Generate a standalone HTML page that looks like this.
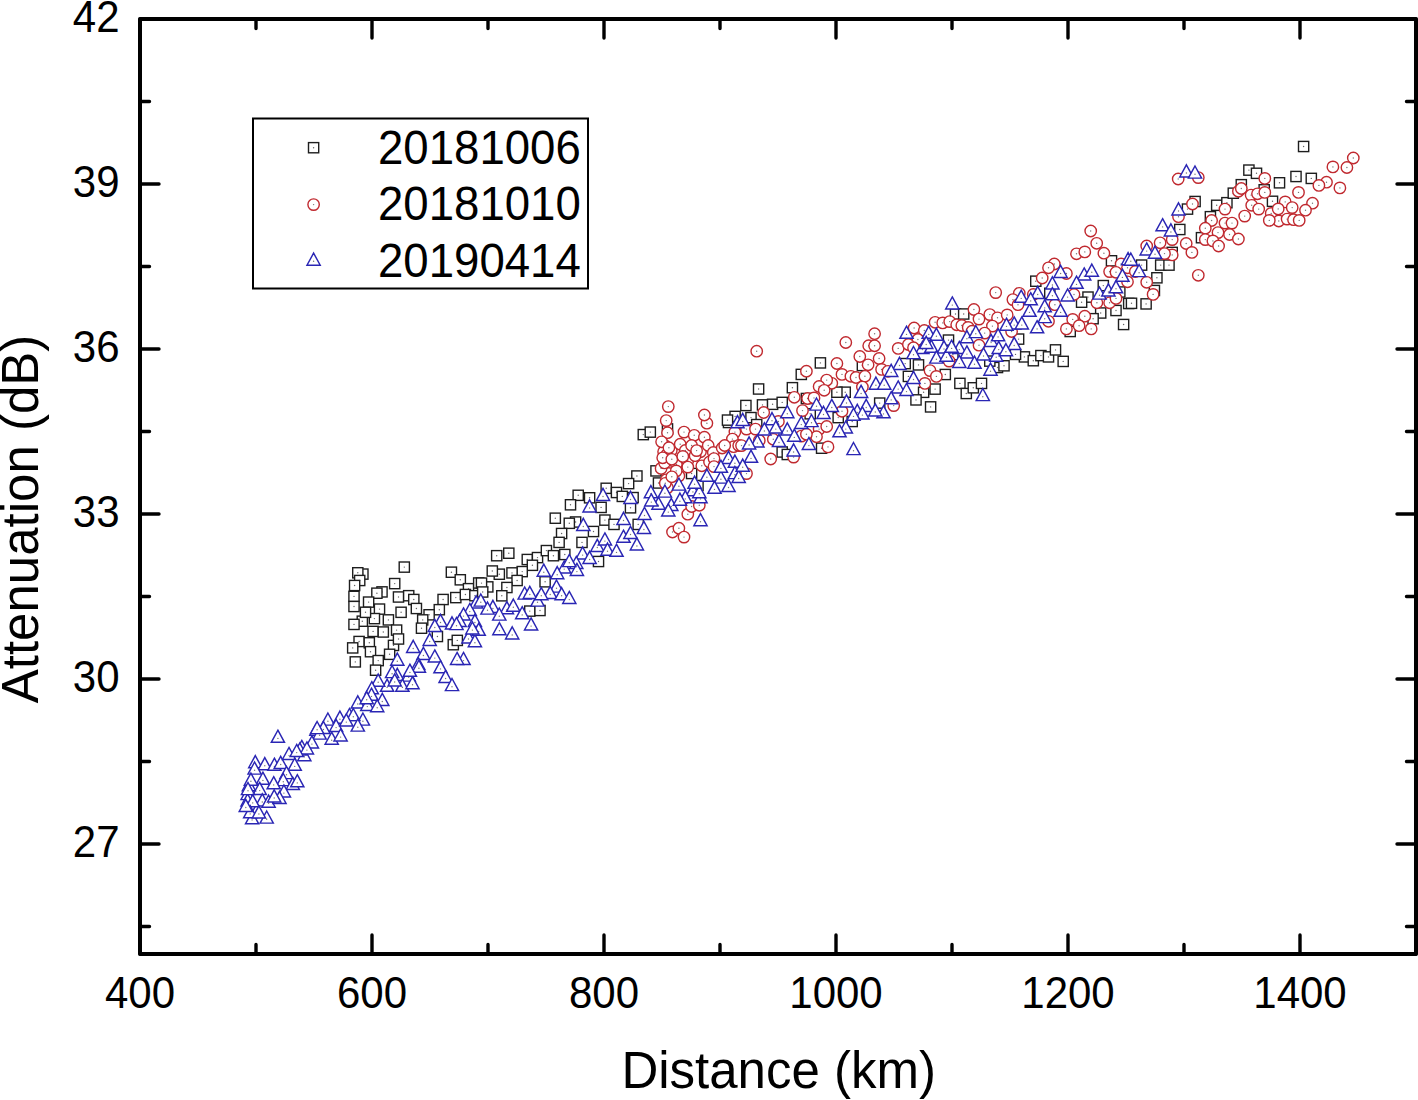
<!DOCTYPE html>
<html><head><meta charset="utf-8"><style>
html,body{margin:0;padding:0;background:#fff;}
svg{display:block;}
text{font-family:"Liberation Sans",sans-serif;fill:#000;}
.tl{font-size:42px;}
</style></head><body>
<svg width="1418" height="1100" viewBox="0 0 1418 1100">
<defs>
<g id="sq"><rect x="-5.1" y="-5.1" width="10.2" height="10.2" fill="#fff" stroke="#1e1e1e" stroke-width="1.4"/><circle r="0.7" fill="#666"/></g>
<g id="ci"><circle r="5.7" fill="#fff" stroke="#c0292f" stroke-width="1.4"/><circle r="0.7" fill="#777"/></g>
<g id="tr"><path d="M0 -8.2L6.6 3.9H-6.6Z" fill="#fff" stroke="#2a26b4" stroke-width="1.45" stroke-linejoin="miter"/><circle r="0.7" fill="#777"/></g>
</defs>
<use href="#sq" x="404.3" y="567.1"/>
<use href="#sq" x="362.9" y="574.1"/>
<use href="#sq" x="357.8" y="572.8"/>
<use href="#sq" x="359.7" y="580.5"/>
<use href="#sq" x="354.6" y="585.5"/>
<use href="#sq" x="394.7" y="583.6"/>
<use href="#sq" x="451.4" y="572.2"/>
<use href="#sq" x="460.3" y="579.8"/>
<use href="#sq" x="468.5" y="588.7"/>
<use href="#sq" x="478.7" y="583.0"/>
<use href="#sq" x="382.0" y="591.9"/>
<use href="#sq" x="376.9" y="593.2"/>
<use href="#sq" x="354.0" y="596.4"/>
<use href="#sq" x="398.5" y="597.0"/>
<use href="#sq" x="408.7" y="595.7"/>
<use href="#sq" x="413.8" y="599.5"/>
<use href="#sq" x="368.6" y="602.1"/>
<use href="#sq" x="354.0" y="606.5"/>
<use href="#sq" x="379.5" y="609.1"/>
<use href="#sq" x="401.1" y="612.3"/>
<use href="#sq" x="416.4" y="608.5"/>
<use href="#sq" x="443.1" y="599.5"/>
<use href="#sq" x="455.8" y="597.6"/>
<use href="#sq" x="465.4" y="594.5"/>
<use href="#sq" x="474.9" y="595.7"/>
<use href="#sq" x="439.3" y="609.7"/>
<use href="#sq" x="429.1" y="614.8"/>
<use href="#sq" x="422.7" y="619.9"/>
<use href="#sq" x="374.4" y="618.6"/>
<use href="#sq" x="388.4" y="619.9"/>
<use href="#sq" x="362.3" y="621.2"/>
<use href="#sq" x="354.0" y="624.4"/>
<use href="#sq" x="421.5" y="628.2"/>
<use href="#sq" x="373.1" y="631.4"/>
<use href="#sq" x="383.3" y="632.0"/>
<use href="#sq" x="396.6" y="630.1"/>
<use href="#sq" x="359.1" y="641.5"/>
<use href="#sq" x="369.3" y="642.8"/>
<use href="#sq" x="393.5" y="645.4"/>
<use href="#sq" x="398.5" y="639.0"/>
<use href="#sq" x="352.7" y="647.9"/>
<use href="#sq" x="370.5" y="651.7"/>
<use href="#sq" x="389.6" y="654.3"/>
<use href="#sq" x="355.3" y="661.9"/>
<use href="#sq" x="378.2" y="660.6"/>
<use href="#sq" x="375.6" y="670.2"/>
<use href="#sq" x="453.3" y="644.7"/>
<use href="#sq" x="437.4" y="636.5"/>
<use href="#sq" x="365.5" y="612.3"/>
<use href="#sq" x="578.2" y="495.3"/>
<use href="#sq" x="589.6" y="497.8"/>
<use href="#sq" x="570.5" y="504.8"/>
<use href="#sq" x="606.2" y="488.3"/>
<use href="#sq" x="601.1" y="507.4"/>
<use href="#sq" x="555.3" y="518.2"/>
<use href="#sq" x="604.9" y="520.1"/>
<use href="#sq" x="575.6" y="522.0"/>
<use href="#sq" x="569.3" y="523.3"/>
<use href="#sq" x="593.5" y="531.5"/>
<use href="#sq" x="561.6" y="533.5"/>
<use href="#sq" x="559.1" y="542.4"/>
<use href="#sq" x="582.0" y="542.4"/>
<use href="#sq" x="496.7" y="555.7"/>
<use href="#sq" x="508.8" y="553.2"/>
<use href="#sq" x="527.3" y="559.5"/>
<use href="#sq" x="537.5" y="557.6"/>
<use href="#sq" x="546.4" y="550.6"/>
<use href="#sq" x="553.4" y="555.7"/>
<use href="#sq" x="564.8" y="554.5"/>
<use href="#sq" x="532.4" y="565.3"/>
<use href="#sq" x="522.2" y="571.6"/>
<use href="#sq" x="512.0" y="572.9"/>
<use href="#sq" x="499.3" y="574.2"/>
<use href="#sq" x="492.3" y="571.0"/>
<use href="#sq" x="517.1" y="580.5"/>
<use href="#sq" x="487.8" y="586.9"/>
<use href="#sq" x="481.5" y="583.1"/>
<use href="#sq" x="506.9" y="587.5"/>
<use href="#sq" x="501.8" y="595.8"/>
<use href="#sq" x="598.5" y="561.5"/>
<use href="#sq" x="545.1" y="581.8"/>
<use href="#sq" x="529.8" y="611.1"/>
<use href="#sq" x="540.0" y="610.5"/>
<use href="#sq" x="482.7" y="592.0"/>
<use href="#sq" x="643.3" y="434.6"/>
<use href="#sq" x="650.3" y="432.1"/>
<use href="#sq" x="667.5" y="428.9"/>
<use href="#sq" x="728.5" y="422.5"/>
<use href="#sq" x="656.0" y="470.9"/>
<use href="#sq" x="636.9" y="476.0"/>
<use href="#sq" x="628.6" y="483.6"/>
<use href="#sq" x="658.5" y="483.0"/>
<use href="#sq" x="616.5" y="492.5"/>
<use href="#sq" x="622.3" y="496.4"/>
<use href="#sq" x="633.1" y="497.6"/>
<use href="#sq" x="630.5" y="507.8"/>
<use href="#sq" x="614.0" y="524.4"/>
<use href="#sq" x="638.2" y="524.4"/>
<use href="#sq" x="691.6" y="473.5"/>
<use href="#sq" x="698.0" y="485.5"/>
<use href="#sq" x="820.4" y="362.9"/>
<use href="#sq" x="801.3" y="374.4"/>
<use href="#sq" x="758.6" y="389.0"/>
<use href="#sq" x="792.4" y="387.7"/>
<use href="#sq" x="745.9" y="405.5"/>
<use href="#sq" x="762.5" y="404.9"/>
<use href="#sq" x="772.6" y="404.3"/>
<use href="#sq" x="782.2" y="402.4"/>
<use href="#sq" x="806.4" y="398.5"/>
<use href="#sq" x="845.2" y="392.2"/>
<use href="#sq" x="836.9" y="392.2"/>
<use href="#sq" x="751.0" y="417.6"/>
<use href="#sq" x="735.1" y="416.4"/>
<use href="#sq" x="756.7" y="424.6"/>
<use href="#sq" x="821.6" y="448.2"/>
<use href="#sq" x="782.2" y="452.0"/>
<use href="#sq" x="787.3" y="454.5"/>
<use href="#sq" x="838.2" y="417.6"/>
<use href="#sq" x="852.2" y="421.5"/>
<use href="#sq" x="862.4" y="365.5"/>
<use href="#sq" x="810.2" y="413.8"/>
<use href="#sq" x="955.5" y="314.0"/>
<use href="#sq" x="963.7" y="314.0"/>
<use href="#sq" x="948.5" y="340.1"/>
<use href="#sq" x="918.5" y="364.9"/>
<use href="#sq" x="905.2" y="363.6"/>
<use href="#sq" x="908.4" y="376.4"/>
<use href="#sq" x="945.3" y="374.5"/>
<use href="#sq" x="935.1" y="389.1"/>
<use href="#sq" x="959.9" y="383.4"/>
<use href="#sq" x="966.3" y="393.5"/>
<use href="#sq" x="973.3" y="387.8"/>
<use href="#sq" x="981.5" y="383.4"/>
<use href="#sq" x="923.6" y="392.3"/>
<use href="#sq" x="916.0" y="399.9"/>
<use href="#sq" x="930.6" y="406.9"/>
<use href="#sq" x="997.5" y="367.5"/>
<use href="#sq" x="989.8" y="361.1"/>
<use href="#sq" x="952.9" y="354.7"/>
<use href="#sq" x="879.7" y="403.1"/>
<use href="#sq" x="1111.5" y="260.8"/>
<use href="#sq" x="1035.8" y="281.2"/>
<use href="#sq" x="1088.0" y="297.1"/>
<use href="#sq" x="1081.6" y="302.2"/>
<use href="#sq" x="1100.7" y="313.0"/>
<use href="#sq" x="1116.0" y="310.5"/>
<use href="#sq" x="1123.6" y="324.5"/>
<use href="#sq" x="1128.7" y="303.5"/>
<use href="#sq" x="1093.1" y="318.7"/>
<use href="#sq" x="1070.2" y="331.5"/>
<use href="#sq" x="1119.8" y="292.0"/>
<use href="#sq" x="1103.3" y="285.6"/>
<use href="#sq" x="1018.6" y="339.1"/>
<use href="#sq" x="1024.4" y="356.9"/>
<use href="#sq" x="1033.3" y="360.7"/>
<use href="#sq" x="1040.9" y="355.6"/>
<use href="#sq" x="1048.5" y="356.9"/>
<use href="#sq" x="1055.5" y="349.9"/>
<use href="#sq" x="1063.2" y="361.4"/>
<use href="#sq" x="1004.0" y="365.8"/>
<use href="#sq" x="1015.5" y="354.4"/>
<use href="#sq" x="1049.8" y="293.3"/>
<use href="#sq" x="1195.1" y="201.5"/>
<use href="#sq" x="1187.5" y="209.1"/>
<use href="#sq" x="1216.7" y="205.3"/>
<use href="#sq" x="1226.9" y="202.7"/>
<use href="#sq" x="1233.3" y="193.2"/>
<use href="#sq" x="1210.4" y="216.7"/>
<use href="#sq" x="1179.8" y="229.5"/>
<use href="#sq" x="1201.5" y="237.7"/>
<use href="#sq" x="1172.2" y="252.4"/>
<use href="#sq" x="1160.7" y="265.1"/>
<use href="#sq" x="1169.0" y="265.1"/>
<use href="#sq" x="1141.6" y="265.1"/>
<use href="#sq" x="1156.9" y="277.8"/>
<use href="#sq" x="1154.4" y="290.5"/>
<use href="#sq" x="1131.5" y="303.3"/>
<use href="#sq" x="1146.1" y="303.9"/>
<use href="#sq" x="1303.6" y="146.5"/>
<use href="#sq" x="1248.9" y="170.1"/>
<use href="#sq" x="1256.5" y="173.3"/>
<use href="#sq" x="1279.5" y="182.8"/>
<use href="#sq" x="1296.0" y="176.5"/>
<use href="#sq" x="1311.3" y="178.4"/>
<use href="#sq" x="1264.2" y="189.8"/>
<use href="#sq" x="1272.5" y="201.3"/>
<use href="#sq" x="1241.3" y="184.7"/>
<use href="#sq" x="727.5" y="420.1"/>
<use href="#sq" x="457.3" y="640.4"/>
<use href="#ci" x="666.2" y="420.6"/>
<use href="#ci" x="706.9" y="423.2"/>
<use href="#ci" x="667.5" y="432.7"/>
<use href="#ci" x="684.0" y="432.1"/>
<use href="#ci" x="694.2" y="435.3"/>
<use href="#ci" x="704.4" y="437.2"/>
<use href="#ci" x="734.9" y="432.1"/>
<use href="#ci" x="732.4" y="439.1"/>
<use href="#ci" x="664.9" y="445.5"/>
<use href="#ci" x="671.3" y="450.5"/>
<use href="#ci" x="680.2" y="444.2"/>
<use href="#ci" x="685.3" y="450.5"/>
<use href="#ci" x="691.6" y="445.5"/>
<use href="#ci" x="700.5" y="451.8"/>
<use href="#ci" x="708.2" y="445.5"/>
<use href="#ci" x="713.3" y="452.5"/>
<use href="#ci" x="722.2" y="448.0"/>
<use href="#ci" x="733.6" y="446.7"/>
<use href="#ci" x="738.7" y="445.5"/>
<use href="#ci" x="666.2" y="460.7"/>
<use href="#ci" x="676.4" y="464.5"/>
<use href="#ci" x="687.8" y="460.7"/>
<use href="#ci" x="687.8" y="467.1"/>
<use href="#ci" x="701.8" y="465.8"/>
<use href="#ci" x="668.7" y="473.5"/>
<use href="#ci" x="666.2" y="479.8"/>
<use href="#ci" x="678.9" y="476.0"/>
<use href="#ci" x="709.5" y="462.0"/>
<use href="#ci" x="687.8" y="514.2"/>
<use href="#ci" x="691.6" y="506.5"/>
<use href="#ci" x="699.3" y="505.3"/>
<use href="#ci" x="672.5" y="532.0"/>
<use href="#ci" x="678.9" y="528.2"/>
<use href="#ci" x="684.0" y="537.1"/>
<use href="#ci" x="724.7" y="445.5"/>
<use href="#ci" x="661.1" y="468.4"/>
<use href="#ci" x="663.6" y="451.8"/>
<use href="#ci" x="756.7" y="351.2"/>
<use href="#ci" x="845.8" y="342.5"/>
<use href="#ci" x="859.8" y="356.5"/>
<use href="#ci" x="868.7" y="345.7"/>
<use href="#ci" x="836.9" y="363.5"/>
<use href="#ci" x="868.1" y="364.8"/>
<use href="#ci" x="806.4" y="371.2"/>
<use href="#ci" x="842.0" y="374.4"/>
<use href="#ci" x="850.9" y="376.3"/>
<use href="#ci" x="856.0" y="377.5"/>
<use href="#ci" x="864.9" y="376.3"/>
<use href="#ci" x="831.8" y="383.3"/>
<use href="#ci" x="826.7" y="380.1"/>
<use href="#ci" x="819.1" y="386.5"/>
<use href="#ci" x="824.2" y="390.3"/>
<use href="#ci" x="794.3" y="397.3"/>
<use href="#ci" x="807.6" y="398.5"/>
<use href="#ci" x="814.0" y="397.9"/>
<use href="#ci" x="862.4" y="387.1"/>
<use href="#ci" x="763.7" y="412.5"/>
<use href="#ci" x="802.5" y="410.6"/>
<use href="#ci" x="746.5" y="429.1"/>
<use href="#ci" x="755.5" y="429.1"/>
<use href="#ci" x="819.1" y="429.1"/>
<use href="#ci" x="826.7" y="426.5"/>
<use href="#ci" x="816.5" y="436.7"/>
<use href="#ci" x="801.3" y="436.1"/>
<use href="#ci" x="806.4" y="434.2"/>
<use href="#ci" x="741.5" y="445.6"/>
<use href="#ci" x="828.0" y="446.9"/>
<use href="#ci" x="770.7" y="459.0"/>
<use href="#ci" x="746.5" y="473.6"/>
<use href="#ci" x="793.6" y="457.1"/>
<use href="#ci" x="842.0" y="411.3"/>
<use href="#ci" x="778.4" y="421.5"/>
<use href="#ci" x="759.3" y="440.5"/>
<use href="#ci" x="773.3" y="439.3"/>
<use href="#ci" x="973.9" y="309.5"/>
<use href="#ci" x="989.8" y="314.6"/>
<use href="#ci" x="979.0" y="319.1"/>
<use href="#ci" x="997.5" y="317.8"/>
<use href="#ci" x="992.4" y="326.1"/>
<use href="#ci" x="935.1" y="322.3"/>
<use href="#ci" x="942.7" y="322.9"/>
<use href="#ci" x="949.7" y="321.6"/>
<use href="#ci" x="956.7" y="324.8"/>
<use href="#ci" x="961.8" y="325.5"/>
<use href="#ci" x="968.2" y="327.4"/>
<use href="#ci" x="972.0" y="331.2"/>
<use href="#ci" x="914.1" y="328.0"/>
<use href="#ci" x="924.3" y="330.5"/>
<use href="#ci" x="917.9" y="339.5"/>
<use href="#ci" x="898.2" y="348.4"/>
<use href="#ci" x="908.4" y="344.5"/>
<use href="#ci" x="913.5" y="347.7"/>
<use href="#ci" x="874.6" y="333.7"/>
<use href="#ci" x="874.6" y="345.8"/>
<use href="#ci" x="879.1" y="358.5"/>
<use href="#ci" x="881.6" y="369.4"/>
<use href="#ci" x="888.0" y="371.3"/>
<use href="#ci" x="930.0" y="370.6"/>
<use href="#ci" x="924.9" y="383.4"/>
<use href="#ci" x="893.7" y="405.6"/>
<use href="#ci" x="979.0" y="345.2"/>
<use href="#ci" x="984.7" y="333.1"/>
<use href="#ci" x="949.1" y="361.1"/>
<use href="#ci" x="936.4" y="376.4"/>
<use href="#ci" x="1076.5" y="253.8"/>
<use href="#ci" x="1084.8" y="251.9"/>
<use href="#ci" x="1103.9" y="253.2"/>
<use href="#ci" x="1054.3" y="264.0"/>
<use href="#ci" x="1048.5" y="267.8"/>
<use href="#ci" x="1066.4" y="273.5"/>
<use href="#ci" x="1042.2" y="278.0"/>
<use href="#ci" x="1121.1" y="264.0"/>
<use href="#ci" x="1109.6" y="271.6"/>
<use href="#ci" x="1116.0" y="272.3"/>
<use href="#ci" x="1127.5" y="267.8"/>
<use href="#ci" x="995.7" y="292.6"/>
<use href="#ci" x="1019.3" y="293.3"/>
<use href="#ci" x="1012.9" y="299.6"/>
<use href="#ci" x="1018.0" y="304.7"/>
<use href="#ci" x="1033.3" y="294.5"/>
<use href="#ci" x="1074.0" y="294.5"/>
<use href="#ci" x="1054.9" y="304.7"/>
<use href="#ci" x="1007.2" y="314.9"/>
<use href="#ci" x="1072.7" y="319.4"/>
<use href="#ci" x="1084.8" y="316.2"/>
<use href="#ci" x="1079.1" y="325.7"/>
<use href="#ci" x="1066.4" y="328.9"/>
<use href="#ci" x="1091.2" y="328.9"/>
<use href="#ci" x="1096.9" y="302.8"/>
<use href="#ci" x="1109.6" y="302.8"/>
<use href="#ci" x="1116.0" y="298.4"/>
<use href="#ci" x="1048.5" y="321.3"/>
<use href="#ci" x="1011.6" y="331.5"/>
<use href="#ci" x="1127.5" y="281.8"/>
<use href="#ci" x="1192.5" y="204.0"/>
<use href="#ci" x="1178.5" y="216.7"/>
<use href="#ci" x="1238.4" y="191.3"/>
<use href="#ci" x="1251.1" y="195.1"/>
<use href="#ci" x="1257.5" y="193.8"/>
<use href="#ci" x="1251.7" y="205.3"/>
<use href="#ci" x="1258.7" y="209.1"/>
<use href="#ci" x="1244.7" y="216.1"/>
<use href="#ci" x="1225.0" y="209.1"/>
<use href="#ci" x="1211.6" y="220.5"/>
<use href="#ci" x="1225.0" y="223.1"/>
<use href="#ci" x="1232.0" y="223.1"/>
<use href="#ci" x="1205.3" y="228.2"/>
<use href="#ci" x="1218.0" y="232.6"/>
<use href="#ci" x="1229.5" y="234.5"/>
<use href="#ci" x="1238.4" y="239.0"/>
<use href="#ci" x="1205.3" y="239.6"/>
<use href="#ci" x="1212.9" y="240.9"/>
<use href="#ci" x="1218.6" y="246.0"/>
<use href="#ci" x="1160.1" y="242.8"/>
<use href="#ci" x="1172.2" y="239.6"/>
<use href="#ci" x="1146.7" y="246.0"/>
<use href="#ci" x="1186.2" y="243.5"/>
<use href="#ci" x="1191.9" y="252.4"/>
<use href="#ci" x="1172.2" y="254.9"/>
<use href="#ci" x="1164.5" y="253.6"/>
<use href="#ci" x="1198.3" y="275.3"/>
<use href="#ci" x="1146.7" y="282.3"/>
<use href="#ci" x="1153.1" y="294.4"/>
<use href="#ci" x="1135.3" y="271.5"/>
<use href="#ci" x="1090.7" y="231.0"/>
<use href="#ci" x="1096.7" y="243.3"/>
<use href="#ci" x="1353.3" y="158.0"/>
<use href="#ci" x="1332.9" y="166.9"/>
<use href="#ci" x="1346.9" y="167.5"/>
<use href="#ci" x="1326.5" y="182.2"/>
<use href="#ci" x="1318.9" y="185.4"/>
<use href="#ci" x="1339.9" y="187.9"/>
<use href="#ci" x="1264.8" y="178.4"/>
<use href="#ci" x="1298.5" y="192.4"/>
<use href="#ci" x="1264.8" y="192.4"/>
<use href="#ci" x="1285.2" y="201.9"/>
<use href="#ci" x="1292.2" y="207.6"/>
<use href="#ci" x="1312.5" y="203.2"/>
<use href="#ci" x="1305.5" y="210.2"/>
<use href="#ci" x="1271.2" y="213.4"/>
<use href="#ci" x="1278.8" y="221.0"/>
<use href="#ci" x="1287.1" y="219.1"/>
<use href="#ci" x="1293.5" y="219.7"/>
<use href="#ci" x="1299.2" y="220.4"/>
<use href="#ci" x="1269.3" y="220.4"/>
<use href="#ci" x="1278.2" y="208.9"/>
<use href="#ci" x="1241.3" y="188.5"/>
<use href="#ci" x="668.3" y="406.6"/>
<use href="#ci" x="704.4" y="415.0"/>
<use href="#ci" x="666.7" y="454.9"/>
<use href="#ci" x="664.6" y="462.9"/>
<use href="#ci" x="667.5" y="487.7"/>
<use href="#ci" x="665.3" y="483.3"/>
<use href="#ci" x="695.1" y="455.7"/>
<use href="#ci" x="696.6" y="450.6"/>
<use href="#ci" x="714.0" y="458.6"/>
<use href="#ci" x="714.0" y="466.6"/>
<use href="#ci" x="662.7" y="457.8"/>
<use href="#ci" x="671.8" y="459.3"/>
<use href="#ci" x="682.8" y="456.4"/>
<use href="#ci" x="676.2" y="470.9"/>
<use href="#ci" x="671.8" y="476.8"/>
<use href="#ci" x="661.6" y="441.8"/>
<use href="#ci" x="668.9" y="447.7"/>
<use href="#ci" x="1178.2" y="179.0"/>
<use href="#ci" x="1198.3" y="177.6"/>
<use href="#tr" x="277.9" y="738.4"/>
<use href="#tr" x="255.3" y="763.8"/>
<use href="#tr" x="264.8" y="765.8"/>
<use href="#tr" x="274.4" y="766.4"/>
<use href="#tr" x="280.7" y="764.5"/>
<use href="#tr" x="289.0" y="755.6"/>
<use href="#tr" x="301.8" y="748.6"/>
<use href="#tr" x="316.4" y="731.4"/>
<use href="#tr" x="327.9" y="721.2"/>
<use href="#tr" x="339.9" y="719.3"/>
<use href="#tr" x="357.8" y="704.0"/>
<use href="#tr" x="349.5" y="716.7"/>
<use href="#tr" x="362.9" y="721.2"/>
<use href="#tr" x="353.3" y="716.7"/>
<use href="#tr" x="336.1" y="727.6"/>
<use href="#tr" x="323.4" y="729.5"/>
<use href="#tr" x="319.6" y="735.2"/>
<use href="#tr" x="311.9" y="744.1"/>
<use href="#tr" x="331.7" y="740.3"/>
<use href="#tr" x="304.3" y="756.8"/>
<use href="#tr" x="294.7" y="766.4"/>
<use href="#tr" x="286.5" y="774.7"/>
<use href="#tr" x="283.3" y="781.7"/>
<use href="#tr" x="262.9" y="780.4"/>
<use href="#tr" x="273.7" y="784.9"/>
<use href="#tr" x="259.7" y="790.6"/>
<use href="#tr" x="292.8" y="785.5"/>
<use href="#tr" x="283.9" y="793.1"/>
<use href="#tr" x="262.3" y="802.0"/>
<use href="#tr" x="268.6" y="803.3"/>
<use href="#tr" x="252.1" y="819.9"/>
<use href="#tr" x="266.7" y="819.2"/>
<use href="#tr" x="248.9" y="786.8"/>
<use href="#tr" x="247.6" y="795.7"/>
<use href="#tr" x="247.6" y="802.0"/>
<use href="#tr" x="254.6" y="770.2"/>
<use href="#tr" x="299.8" y="751.1"/>
<use href="#tr" x="367.3" y="706.6"/>
<use href="#tr" x="340.6" y="737.1"/>
<use href="#tr" x="279.5" y="799.5"/>
<use href="#tr" x="256.6" y="812.2"/>
<use href="#tr" x="297.3" y="782.9"/>
<use href="#tr" x="476.2" y="604.0"/>
<use href="#tr" x="469.8" y="611.6"/>
<use href="#tr" x="463.5" y="616.1"/>
<use href="#tr" x="474.9" y="622.5"/>
<use href="#tr" x="440.5" y="622.5"/>
<use href="#tr" x="434.8" y="627.5"/>
<use href="#tr" x="452.0" y="625.0"/>
<use href="#tr" x="459.6" y="622.5"/>
<use href="#tr" x="429.7" y="641.5"/>
<use href="#tr" x="468.5" y="639.0"/>
<use href="#tr" x="474.9" y="642.8"/>
<use href="#tr" x="413.2" y="648.5"/>
<use href="#tr" x="423.4" y="655.5"/>
<use href="#tr" x="434.8" y="658.1"/>
<use href="#tr" x="397.3" y="661.3"/>
<use href="#tr" x="463.5" y="660.6"/>
<use href="#tr" x="457.1" y="660.6"/>
<use href="#tr" x="418.3" y="665.7"/>
<use href="#tr" x="440.5" y="668.9"/>
<use href="#tr" x="397.3" y="676.5"/>
<use href="#tr" x="408.7" y="677.2"/>
<use href="#tr" x="445.6" y="678.5"/>
<use href="#tr" x="452.0" y="686.7"/>
<use href="#tr" x="402.4" y="687.4"/>
<use href="#tr" x="387.1" y="687.4"/>
<use href="#tr" x="412.5" y="684.8"/>
<use href="#tr" x="378.2" y="682.3"/>
<use href="#tr" x="371.8" y="689.9"/>
<use href="#tr" x="478.7" y="631.4"/>
<use href="#tr" x="472.4" y="630.1"/>
<use href="#tr" x="418.9" y="668.3"/>
<use href="#tr" x="603.0" y="496.5"/>
<use href="#tr" x="589.6" y="508.0"/>
<use href="#tr" x="583.3" y="526.5"/>
<use href="#tr" x="597.3" y="547.5"/>
<use href="#tr" x="604.9" y="541.1"/>
<use href="#tr" x="607.5" y="551.3"/>
<use href="#tr" x="582.6" y="555.1"/>
<use href="#tr" x="589.6" y="559.5"/>
<use href="#tr" x="576.3" y="564.6"/>
<use href="#tr" x="564.2" y="569.1"/>
<use href="#tr" x="543.8" y="572.3"/>
<use href="#tr" x="557.2" y="574.8"/>
<use href="#tr" x="576.9" y="571.6"/>
<use href="#tr" x="569.3" y="562.7"/>
<use href="#tr" x="556.5" y="588.2"/>
<use href="#tr" x="524.7" y="595.2"/>
<use href="#tr" x="537.5" y="602.2"/>
<use href="#tr" x="550.2" y="594.5"/>
<use href="#tr" x="561.6" y="595.8"/>
<use href="#tr" x="569.3" y="599.6"/>
<use href="#tr" x="480.8" y="602.2"/>
<use href="#tr" x="492.9" y="608.5"/>
<use href="#tr" x="506.9" y="609.8"/>
<use href="#tr" x="513.3" y="607.3"/>
<use href="#tr" x="499.3" y="616.2"/>
<use href="#tr" x="522.2" y="614.9"/>
<use href="#tr" x="529.8" y="594.5"/>
<use href="#tr" x="541.3" y="595.8"/>
<use href="#tr" x="371.5" y="696.4"/>
<use href="#tr" x="382.3" y="701.5"/>
<use href="#tr" x="377.2" y="707.8"/>
<use href="#tr" x="499.4" y="630.8"/>
<use href="#tr" x="630.5" y="499.5"/>
<use href="#tr" x="650.9" y="493.8"/>
<use href="#tr" x="664.9" y="493.2"/>
<use href="#tr" x="678.9" y="486.2"/>
<use href="#tr" x="692.9" y="491.9"/>
<use href="#tr" x="706.9" y="477.3"/>
<use href="#tr" x="720.9" y="479.2"/>
<use href="#tr" x="728.5" y="459.5"/>
<use href="#tr" x="734.9" y="463.3"/>
<use href="#tr" x="734.9" y="474.7"/>
<use href="#tr" x="714.5" y="489.4"/>
<use href="#tr" x="728.5" y="487.5"/>
<use href="#tr" x="700.5" y="498.9"/>
<use href="#tr" x="685.3" y="498.9"/>
<use href="#tr" x="658.5" y="505.3"/>
<use href="#tr" x="671.3" y="506.5"/>
<use href="#tr" x="644.5" y="515.5"/>
<use href="#tr" x="623.5" y="520.5"/>
<use href="#tr" x="643.9" y="529.5"/>
<use href="#tr" x="623.5" y="538.4"/>
<use href="#tr" x="630.5" y="534.5"/>
<use href="#tr" x="636.9" y="546.0"/>
<use href="#tr" x="616.5" y="552.4"/>
<use href="#tr" x="700.5" y="521.8"/>
<use href="#tr" x="720.9" y="468.4"/>
<use href="#tr" x="738.7" y="478.5"/>
<use href="#tr" x="737.5" y="423.8"/>
<use href="#tr" x="699.3" y="493.8"/>
<use href="#tr" x="861.1" y="393.5"/>
<use href="#tr" x="846.5" y="403.0"/>
<use href="#tr" x="831.8" y="407.5"/>
<use href="#tr" x="816.5" y="406.2"/>
<use href="#tr" x="823.5" y="414.5"/>
<use href="#tr" x="787.3" y="413.8"/>
<use href="#tr" x="772.0" y="420.8"/>
<use href="#tr" x="742.7" y="421.5"/>
<use href="#tr" x="801.3" y="424.6"/>
<use href="#tr" x="811.5" y="422.7"/>
<use href="#tr" x="764.4" y="431.0"/>
<use href="#tr" x="787.3" y="431.0"/>
<use href="#tr" x="775.8" y="429.1"/>
<use href="#tr" x="794.3" y="437.4"/>
<use href="#tr" x="779.0" y="442.5"/>
<use href="#tr" x="757.4" y="443.1"/>
<use href="#tr" x="749.1" y="445.0"/>
<use href="#tr" x="808.9" y="445.6"/>
<use href="#tr" x="793.6" y="452.0"/>
<use href="#tr" x="853.5" y="450.7"/>
<use href="#tr" x="845.8" y="429.1"/>
<use href="#tr" x="839.5" y="432.9"/>
<use href="#tr" x="751.0" y="458.4"/>
<use href="#tr" x="742.7" y="467.3"/>
<use href="#tr" x="866.2" y="407.5"/>
<use href="#tr" x="857.3" y="412.5"/>
<use href="#tr" x="862.4" y="415.1"/>
<use href="#tr" x="853.5" y="416.4"/>
<use href="#tr" x="952.3" y="305.1"/>
<use href="#tr" x="906.5" y="334.4"/>
<use href="#tr" x="928.7" y="334.4"/>
<use href="#tr" x="936.4" y="336.3"/>
<use href="#tr" x="966.9" y="338.8"/>
<use href="#tr" x="975.8" y="333.7"/>
<use href="#tr" x="991.1" y="342.6"/>
<use href="#tr" x="998.1" y="336.9"/>
<use href="#tr" x="922.4" y="349.6"/>
<use href="#tr" x="931.3" y="348.4"/>
<use href="#tr" x="944.0" y="349.0"/>
<use href="#tr" x="959.3" y="349.6"/>
<use href="#tr" x="966.9" y="354.1"/>
<use href="#tr" x="913.5" y="354.7"/>
<use href="#tr" x="936.4" y="359.2"/>
<use href="#tr" x="946.5" y="357.3"/>
<use href="#tr" x="959.3" y="363.6"/>
<use href="#tr" x="974.5" y="364.3"/>
<use href="#tr" x="983.5" y="356.0"/>
<use href="#tr" x="996.2" y="357.3"/>
<use href="#tr" x="990.5" y="371.3"/>
<use href="#tr" x="899.5" y="365.5"/>
<use href="#tr" x="891.2" y="372.5"/>
<use href="#tr" x="913.5" y="379.5"/>
<use href="#tr" x="875.9" y="385.3"/>
<use href="#tr" x="884.2" y="385.3"/>
<use href="#tr" x="898.2" y="389.1"/>
<use href="#tr" x="891.2" y="399.9"/>
<use href="#tr" x="883.5" y="413.9"/>
<use href="#tr" x="875.3" y="412.0"/>
<use href="#tr" x="906.5" y="391.6"/>
<use href="#tr" x="982.8" y="396.7"/>
<use href="#tr" x="998.7" y="349.6"/>
<use href="#tr" x="926.2" y="344.5"/>
<use href="#tr" x="951.6" y="348.4"/>
<use href="#tr" x="1060.6" y="273.5"/>
<use href="#tr" x="1084.2" y="276.1"/>
<use href="#tr" x="1091.8" y="272.3"/>
<use href="#tr" x="1128.1" y="260.8"/>
<use href="#tr" x="1122.4" y="277.4"/>
<use href="#tr" x="1052.4" y="285.0"/>
<use href="#tr" x="1076.5" y="284.4"/>
<use href="#tr" x="1037.7" y="294.5"/>
<use href="#tr" x="1052.4" y="295.8"/>
<use href="#tr" x="1067.6" y="297.1"/>
<use href="#tr" x="1099.5" y="295.2"/>
<use href="#tr" x="1108.4" y="292.0"/>
<use href="#tr" x="1116.0" y="288.8"/>
<use href="#tr" x="1021.2" y="298.4"/>
<use href="#tr" x="1029.5" y="312.4"/>
<use href="#tr" x="1044.7" y="307.9"/>
<use href="#tr" x="1060.6" y="312.4"/>
<use href="#tr" x="1044.7" y="318.7"/>
<use href="#tr" x="1037.1" y="328.9"/>
<use href="#tr" x="1014.2" y="325.1"/>
<use href="#tr" x="1021.8" y="325.1"/>
<use href="#tr" x="1006.5" y="326.4"/>
<use href="#tr" x="1014.2" y="345.5"/>
<use href="#tr" x="1005.9" y="351.8"/>
<use href="#tr" x="1030.7" y="300.9"/>
<use href="#tr" x="1178.5" y="211.0"/>
<use href="#tr" x="1162.6" y="226.9"/>
<use href="#tr" x="1170.9" y="232.0"/>
<use href="#tr" x="1146.7" y="251.1"/>
<use href="#tr" x="1155.0" y="254.3"/>
<use href="#tr" x="1130.8" y="261.3"/>
<use href="#tr" x="1139.1" y="272.7"/>
<use href="#tr" x="1186.4" y="173.0"/>
<use href="#tr" x="1195.0" y="174.2"/>
<use href="#tr" x="512.2" y="635.0"/>
<use href="#tr" x="531.1" y="626.1"/>
<use href="#tr" x="456.5" y="625.7"/>
<use href="#tr" x="487.5" y="610.2"/>
<use href="#tr" x="250.9" y="781.3"/>
<use href="#tr" x="248.0" y="790.7"/>
<use href="#tr" x="252.7" y="802.9"/>
<use href="#tr" x="250.2" y="813.9"/>
<use href="#tr" x="274.2" y="798.0"/>
<use href="#tr" x="245.8" y="807.5"/>
<use href="#tr" x="258.9" y="814.0"/>
<use href="#tr" x="346.3" y="722.1"/>
<use href="#tr" x="357.8" y="727.2"/>
<use href="#tr" x="306.9" y="750.1"/>
<use href="#tr" x="296.7" y="752.6"/>
<use href="#tr" x="317.1" y="729.7"/>
<use href="#tr" x="392.1" y="673.7"/>
<use href="#tr" x="409.9" y="672.4"/>
<use href="#tr" x="394.7" y="682.0"/>
<use href="#tr" x="366.7" y="699.8"/>
<use href="#tr" x="651.3" y="502.1"/>
<use href="#tr" x="668.3" y="512.1"/>
<use href="#tr" x="679.9" y="501.3"/>
<use href="#tr" x="694.6" y="484.3"/>
<rect x="140" y="19" width="1276" height="935" fill="none" stroke="#000" stroke-width="4" stroke-linejoin="round"/>
<path d="M140.0 954v-19M140.0 19v19M256.0 954v-9.5M256.0 19v9.5M372.0 954v-19M372.0 19v19M488.0 954v-9.5M488.0 19v9.5M604.0 954v-19M604.0 19v19M720.0 954v-9.5M720.0 19v9.5M836.0 954v-19M836.0 19v19M952.0 954v-9.5M952.0 19v9.5M1068.0 954v-19M1068.0 19v19M1184.0 954v-9.5M1184.0 19v9.5M1300.0 954v-19M1300.0 19v19M1416.0 954v-9.5M1416.0 19v9.5M140 926.5h9.5M1416 926.5h-9.5M140 844.0h19M1416 844.0h-19M140 761.5h9.5M1416 761.5h-9.5M140 679.0h19M1416 679.0h-19M140 596.5h9.5M1416 596.5h-9.5M140 514.0h19M1416 514.0h-19M140 431.5h9.5M1416 431.5h-9.5M140 349.0h19M1416 349.0h-19M140 266.5h9.5M1416 266.5h-9.5M140 184.0h19M1416 184.0h-19M140 101.5h9.5M1416 101.5h-9.5M140 19.0h19M1416 19.0h-19" stroke="#000" stroke-width="3.4" stroke-linecap="round" fill="none"/>
<text transform="translate(140.0 1007.5) scale(1 1.04)" text-anchor="middle" class="tl">400</text><text transform="translate(372.0 1007.5) scale(1 1.04)" text-anchor="middle" class="tl">600</text><text transform="translate(604.0 1007.5) scale(1 1.04)" text-anchor="middle" class="tl">800</text><text transform="translate(836.0 1007.5) scale(1 1.04)" text-anchor="middle" class="tl">1000</text><text transform="translate(1068.0 1007.5) scale(1 1.04)" text-anchor="middle" class="tl">1200</text><text transform="translate(1300.0 1007.5) scale(1 1.04)" text-anchor="middle" class="tl">1400</text><text transform="translate(119.5 857.0) scale(1 1.04)" text-anchor="end" class="tl">27</text><text transform="translate(119.5 692.0) scale(1 1.04)" text-anchor="end" class="tl">30</text><text transform="translate(119.5 527.0) scale(1 1.04)" text-anchor="end" class="tl">33</text><text transform="translate(119.5 362.0) scale(1 1.04)" text-anchor="end" class="tl">36</text><text transform="translate(119.5 197.0) scale(1 1.04)" text-anchor="end" class="tl">39</text><text transform="translate(119.5 32.0) scale(1 1.04)" text-anchor="end" class="tl">42</text>
<text x="778.7" y="1088" text-anchor="middle" style="font-size:51px">Distance (km)</text>
<text transform="translate(38 519) rotate(-90)" text-anchor="middle" style="font-size:51px">Attenuation (dB)</text>
<rect x="253" y="118.5" width="335" height="170" fill="#fff" stroke="#000" stroke-width="2"/>
<use href="#sq" x="313.6" y="147.7"/>
<use href="#ci" x="313.6" y="204.6"/>
<use href="#tr" x="313.6" y="261.3"/>
<text transform="translate(378 163.5) scale(1 1.045)" style="font-size:45.6px">20181006</text>
<text transform="translate(378 220) scale(1 1.045)" style="font-size:45.6px">20181010</text>
<text transform="translate(378 276.5) scale(1 1.045)" style="font-size:45.6px">20190414</text>
</svg></body></html>
